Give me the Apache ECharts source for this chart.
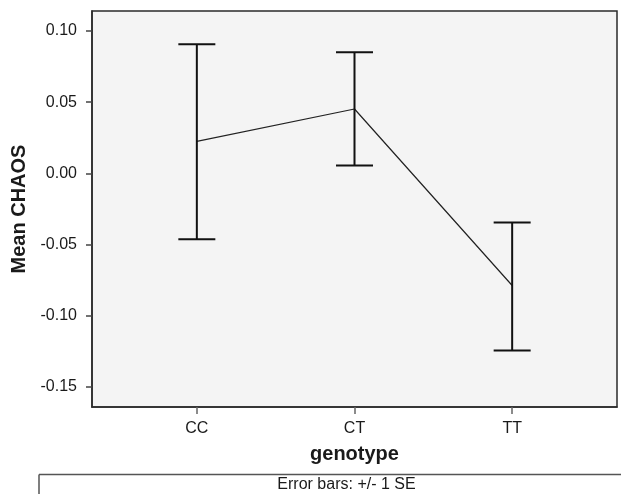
<!DOCTYPE html>
<html>
<head>
<meta charset="utf-8">
<script src="https://cdn.jsdelivr.net/npm/echarts@6/dist/echarts.min.js"></script>
<style>
html,body{margin:0;padding:0;background:#fff;}
#chart{width:621px;height:494px;}
</style>
</head>
<body>
<div id="chart"></div>
<script>
const categories = ['CC', 'CT', 'TT'];
const means = [0.0225, 0.0452, -0.0787];
const upper = [0.0906, 0.0850, -0.0344];
const lower = [-0.0463, 0.0056, -0.1243];
const yTicks = [-0.15, -0.10, -0.05, 0.00, 0.05, 0.10];
const xTicks = [1, 2, 3];
const footnote = 'Error bars: +/- 1 SE';

const FONT = "'Liberation Sans', Arial, sans-serif";
const chart = echarts.init(document.getElementById('chart'));

const lineData = categories.map((c, i) => [i + 1, means[i]]);
const errData = categories.map((c, i) => [i + 1, lower[i], upper[i]]);

chart.setOption({
  animation: false,
  backgroundColor: '#fff',
  grid: {
    left: 92, right: 4, top: 11, bottom: 87,
    show: true, backgroundColor: '#f4f4f4', borderColor: '#2a2a2a', borderWidth: 1.5
  },
  xAxis: {
    type: 'value', min: 0.335, max: 3.665,
    name: 'genotype', nameLocation: 'middle', nameGap: 37,
    nameTextStyle: { fontFamily: FONT, fontSize: 20, fontWeight: 'bold', color: '#1a1a1a' },
    axisLine: { show: true, onZero: false, lineStyle: { color: '#2a2a2a', width: 1.5 } },
    axisTick: { show: true, length: 7, lineStyle: { color: '#666', width: 1.5 }, customValues: xTicks },
    axisLabel: {
      fontFamily: FONT, fontSize: 16, color: '#1a1a1a', margin: 14,
      customValues: xTicks,
      formatter: v => categories[Math.round(v) - 1] || ''
    },
    splitLine: { show: false }
  },
  yAxis: {
    type: 'value', min: -0.164, max: 0.114,
    name: 'Mean CHAOS', nameLocation: 'middle', nameGap: 60,
    nameTextStyle: { fontFamily: FONT, fontSize: 20, fontWeight: 'bold', color: '#1a1a1a' },
    axisLine: { show: true, onZero: false, lineStyle: { color: '#2a2a2a', width: 1.5 } },
    axisTick: { show: true, length: 6, lineStyle: { color: '#444', width: 1.5 }, customValues: yTicks },
    axisLabel: {
      fontFamily: FONT, fontSize: 16, color: '#1a1a1a', margin: 15,
      customValues: yTicks,
      formatter: v => v.toFixed(2)
    },
    splitLine: { show: false }
  },
  series: [
    {
      type: 'line', data: lineData, symbol: 'none',
      lineStyle: { color: '#222', width: 1.2 }, z: 3
    },
    {
      type: 'custom', data: errData, z: 4,
      renderItem: function (params, api) {
        const x = api.value(0);
        const pLo = api.coord([x, api.value(1)]);
        const pHi = api.coord([x, api.value(2)]);
        const w = 18.5;
        const st = { stroke: '#111', lineWidth: 2 };
        return {
          type: 'group',
          children: [
            { type: 'line', shape: { x1: pLo[0], y1: pLo[1], x2: pHi[0], y2: pHi[1] }, style: st },
            { type: 'line', shape: { x1: pHi[0] - w, y1: pHi[1], x2: pHi[0] + w, y2: pHi[1] }, style: st },
            { type: 'line', shape: { x1: pLo[0] - w, y1: pLo[1], x2: pLo[0] + w, y2: pLo[1] }, style: st }
          ]
        };
      }
    }
  ],
  graphic: [
    { type: 'line', shape: { x1: 39, y1: 474.5, x2: 621, y2: 474.5 }, style: { stroke: '#555', lineWidth: 1.5 } },
    { type: 'line', shape: { x1: 39, y1: 474.5, x2: 39, y2: 494 }, style: { stroke: '#555', lineWidth: 1.5 } },
    {
      type: 'text', x: 346.5, y: 484.5,
      style: { text: footnote, fontFamily: FONT, fontSize: 16, fill: '#1a1a1a', align: 'center', verticalAlign: 'middle' }
    }
  ]
});
</script>
</body>
</html>
